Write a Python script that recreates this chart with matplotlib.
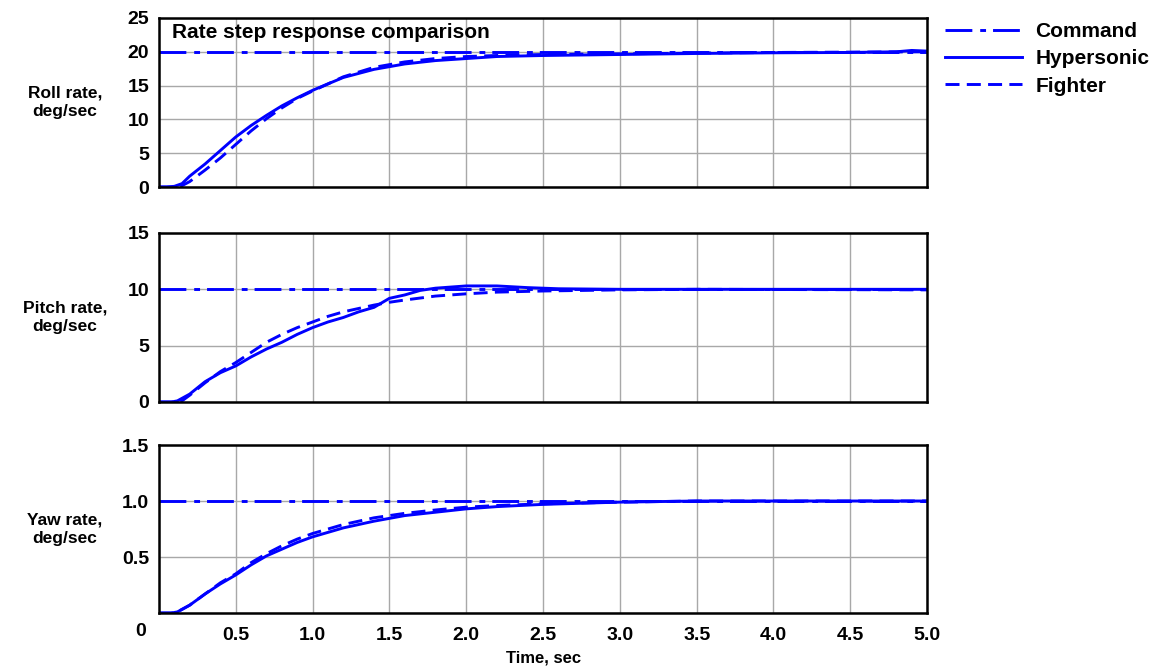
import matplotlib
matplotlib.use('Agg')
import matplotlib.pyplot as plt
from matplotlib.lines import Line2D

plt.rcParams['font.family'] = ['Liberation Sans', 'DejaVu Sans']
plt.rcParams['font.weight'] = 'bold'

# --- DATA ---
cmd_t = [0.0, 5.0]
roll_cmd = [20, 20]
pitch_cmd = [10, 10]
yaw_cmd = [1.0, 1.0]

roll_hyp_t = [0, 0.05, 0.1, 0.15, 0.2, 0.3, 0.4, 0.5, 0.6, 0.7, 0.8, 0.9, 1.0, 1.2,
              1.4, 1.6, 1.8, 2.0, 2.2, 2.5, 3.0, 3.5, 4.0, 4.5, 4.8, 4.9, 5.0]
roll_hyp = [0, 0, 0.1, 0.5, 1.6, 3.4, 5.4, 7.4, 9.1, 10.6, 12.0, 13.2, 14.3, 16.2,
            17.4, 18.2, 18.7, 19.0, 19.3, 19.45, 19.6, 19.75, 19.85, 19.9, 20.0, 20.2, 20.1]

roll_fig_t = [0, 0.1, 0.15, 0.2, 0.3, 0.4, 0.5, 0.6, 0.7, 0.8, 0.9, 1.0, 1.2, 1.4,
              1.6, 1.8, 2.0, 2.2, 2.5, 3.0, 3.5, 4.0, 4.5, 5.0]
roll_fig = [0, 0, 0.2, 0.8, 2.5, 4.3, 6.3, 8.3, 10.1, 11.7, 13.1, 14.2, 16.3, 17.7,
            18.5, 19.0, 19.3, 19.45, 19.6, 19.7, 19.8, 19.9, 19.95, 20.0]

pitch_hyp_t = [0, 0.08, 0.12, 0.2, 0.3, 0.4, 0.5, 0.6, 0.7, 0.8, 0.9, 1.0, 1.1, 1.2,
               1.3, 1.4, 1.5, 1.6, 1.7, 1.8, 2.0, 2.2, 2.4, 2.6, 3.0, 4.0, 5.0]
pitch_hyp = [0, 0, 0.1, 0.7, 1.8, 2.6, 3.2, 4.0, 4.7, 5.3, 6.0, 6.6, 7.1, 7.5,
             8.0, 8.4, 9.2, 9.5, 9.9, 10.1, 10.3, 10.3, 10.15, 10.05, 10.0, 10.0, 10.0]

pitch_fig_t = [0, 0.1, 0.15, 0.2, 0.3, 0.4, 0.5, 0.6, 0.7, 0.8, 0.9, 1.0, 1.1, 1.2,
               1.3, 1.4, 1.5, 1.6, 1.8, 2.0, 2.2, 2.5, 3.0, 3.5, 5.0]
pitch_fig = [0, 0, 0.1, 0.6, 1.7, 2.7, 3.5, 4.4, 5.3, 6.0, 6.6, 7.1, 7.6, 8.0,
             8.3, 8.6, 8.85, 9.05, 9.4, 9.6, 9.75, 9.85, 9.95, 10.0, 9.95]

yaw_hyp_t = [0, 0.08, 0.12, 0.2, 0.3, 0.4, 0.5, 0.6, 0.7, 0.8, 0.9, 1.0, 1.2, 1.4,
             1.6, 1.8, 2.0, 2.2, 2.5, 3.0, 3.5, 5.0]
yaw_hyp = [0, 0, 0.01, 0.07, 0.17, 0.26, 0.34, 0.43, 0.51, 0.57, 0.63, 0.68, 0.76, 0.82,
           0.87, 0.90, 0.93, 0.95, 0.97, 0.99, 1.0, 1.0]

yaw_fig_t = [0, 0.08, 0.12, 0.2, 0.3, 0.4, 0.5, 0.6, 0.7, 0.8, 0.9, 1.0, 1.2, 1.4,
             1.6, 1.8, 2.0, 2.2, 2.5, 3.0, 3.5, 5.0]
yaw_fig = [0, 0, 0.01, 0.07, 0.17, 0.27, 0.35, 0.45, 0.53, 0.60, 0.66, 0.71, 0.79, 0.85,
           0.89, 0.92, 0.945, 0.96, 0.975, 0.99, 1.0, 1.0]

x_ticks = [0, 0.5, 1.0, 1.5, 2.0, 2.5, 3.0, 3.5, 4.0, 4.5, 5.0]
x_labels = ['', '0.5', '1.0', '1.5', '2.0', '2.5', '3.0', '3.5', '4.0', '4.5', '5.0']

BLUE = '#0000ff'
LW = 2.1
CMD_DASH = (9.2, 2.7, 2.0, 2.4)
FIG_DASH = (4.8, 2.5)
TICK_FS = 14

fig = plt.figure(figsize=(11.56, 6.71), dpi=100)

left, width = 0.1375, 0.6645
ax1 = fig.add_axes([left, 0.7213, width, 0.2519])
ax2 = fig.add_axes([left, 0.4009, width, 0.2519])
ax3 = fig.add_axes([left, 0.0864, width, 0.2504])

panels = [
    (ax1, roll_cmd, roll_hyp_t, roll_hyp, roll_fig_t, roll_fig, (0, 25),
     [0, 5, 10, 15, 20, 25], ['0', '5', '10', '15', '20', '25'], 'Roll rate,\ndeg/sec'),
    (ax2, pitch_cmd, pitch_hyp_t, pitch_hyp, pitch_fig_t, pitch_fig, (0, 15),
     [0, 5, 10, 15], ['0', '5', '10', '15'], 'Pitch rate,\ndeg/sec'),
    (ax3, yaw_cmd, yaw_hyp_t, yaw_hyp, yaw_fig_t, yaw_fig, (0, 1.5),
     [0, 0.5, 1.0, 1.5], ['', '0.5', '1.0', '1.5'], 'Yaw rate,\ndeg/sec'),
]

for ax, cmd, ht, hv, ft, fv, ylim, yt, ytl, ylab in panels:
    ax.plot(cmd_t, cmd, color=BLUE, lw=LW, dashes=CMD_DASH)
    ax.plot(ht, hv, color=BLUE, lw=LW)
    ax.plot(ft, fv, color=BLUE, lw=LW, dashes=FIG_DASH)
    ax.set_xlim(0, 5)
    ax.set_ylim(*ylim)
    ax.set_yticks(yt)
    ax.set_yticklabels(ytl, fontsize=TICK_FS, fontweight='bold')
    ax.set_xticks(x_ticks)
    ax.grid(True, color='#a8a8a8', lw=1.0)
    ax.set_axisbelow(True)
    ax.tick_params(length=0, pad=7)
    for s in ax.spines.values():
        s.set_linewidth(1.8)
        s.set_color('black')
    pos = ax.get_position()
    fig.text(0.056, pos.y0 + pos.height * 0.5, ylab, ha='center', va='center',
             fontsize=12.5, fontweight='bold', linespacing=1.25)

for ax in (ax1, ax2):
    ax.set_xticklabels([])
ax3.set_xticklabels(x_labels, fontsize=TICK_FS, fontweight='bold')
ax3.tick_params(axis='x', pad=10)
fig.text(141 / 1156, 1 - 632 / 671, '0', ha='center', va='center',
         fontsize=TICK_FS, fontweight='bold')
fig.text(0.47, 1 - 658 / 671, 'Time, sec', ha='center', va='center',
         fontsize=12, fontweight='bold')

ax1.text(0.017, 0.915, 'Rate step response comparison', transform=ax1.transAxes,
         ha='left', va='center', fontsize=15, fontweight='bold')

handles = [
    Line2D([], [], color=BLUE, lw=LW, dashes=CMD_DASH),
    Line2D([], [], color=BLUE, lw=LW),
    Line2D([], [], color=BLUE, lw=LW, dashes=FIG_DASH),
]
fig.legend(handles, ['Command', 'Hypersonic', 'Fighter'],
           loc='upper left', bbox_to_anchor=(0.801, 0.995), frameon=False,
           handlelength=3.7, handletextpad=0.65, labelspacing=0.4,
           prop={'size': 15, 'weight': 'bold'})

fig.savefig('out.png', dpi=100)
